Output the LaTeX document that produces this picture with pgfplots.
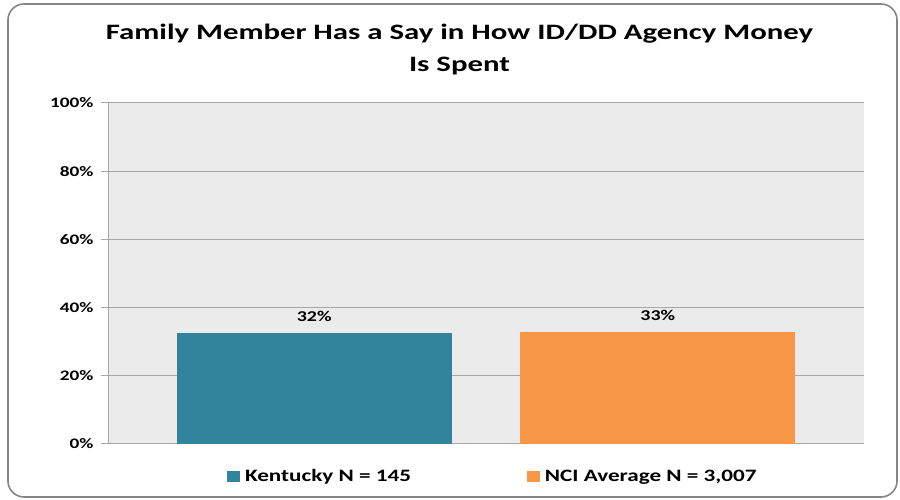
\documentclass[border=0pt]{standalone}
\usepackage{pgfplots}
\pgfplotsset{compat=1.18}
\usepackage{fontspec}
\setmainfont{Carlito}[FakeStretch=1.33]
\newfontfamily\titlefont{Carlito}[FakeStretch=1.40]
\definecolor{kyteal}{HTML}{31849B}
\definecolor{nciorange}{HTML}{F79646}
\definecolor{plotbg}{HTML}{EBEBEB}
\definecolor{gridgray}{HTML}{A6A6A6}
\definecolor{framegray}{HTML}{858585}
\begin{document}
\begin{tikzpicture}[x=1bp,y=1bp]
\useasboundingbox (0,0) rectangle (900,500);
\draw[rounded corners=16bp, color=framegray, line width=1.6bp] (8,3) rectangle (897,496);
\node[anchor=base, font=\titlefont\bfseries\fontsize{22bp}{26bp}\selectfont, inner sep=0] at (459.5,460) {Family Member Has a Say in How ID/DD Agency Money};
\node[anchor=base, font=\titlefont\bfseries\fontsize{22bp}{26bp}\selectfont, inner sep=0] at (459.5,428) {Is Spent};
\begin{axis}[
  at={(108bp,56bp)}, anchor=south west,
  scale only axis, width=756bp, height=341bp,
  xmin=-0.6, xmax=1.6, ymin=0, ymax=100,
  axis background/.style={fill=plotbg},
  axis line style={draw=gridgray, line width=1bp},
  axis x line*=bottom, axis y line*=left,
  xtick=\empty,
  ytick={0,20,40,60,80,100},
  yticklabel={\pgfmathprintnumber{\tick}\%},
  /pgf/number format/assume math mode=true,
  yticklabel style={font=\bfseries\fontsize{14.5bp}{16bp}\selectfont, xshift=-4bp},
  tick style={draw=gridgray, line width=1bp},
  major tick length=7bp,
  tick align=outside,
  ymajorgrids,
  grid style={draw=gridgray, line width=1bp},
  ybar=0pt, bar width=275bp, bar shift=0pt,
  point meta=explicit symbolic,
  nodes near coords,
  nodes near coords style={font=\bfseries\fontsize{15bp}{16bp}\selectfont, anchor=base, inner sep=0, yshift=11bp, text=black},
  legend columns=2,
  legend style={at={(0.509,-0.095)}, anchor=center, draw=none, fill=none,
    font=\bfseries\fontsize{17.4bp}{20bp}\selectfont,
    /tikz/every even column/.append style={column sep=114bp}},
  legend image code/.code={\fill[#1, draw=none] (0bp,-5.5bp) rectangle (13bp,5.5bp); \path (16bp,0bp);},
]
\addplot[fill=kyteal, draw=none] coordinates {(0,32.6) [32\%]};
\addlegendentry{Kentucky N = 145}
\addplot[fill=nciorange, draw=none] coordinates {(1,32.9) [33\%]};
\addlegendentry{NCI Average N = 3,007}
\end{axis}
\end{tikzpicture}
\end{document}
